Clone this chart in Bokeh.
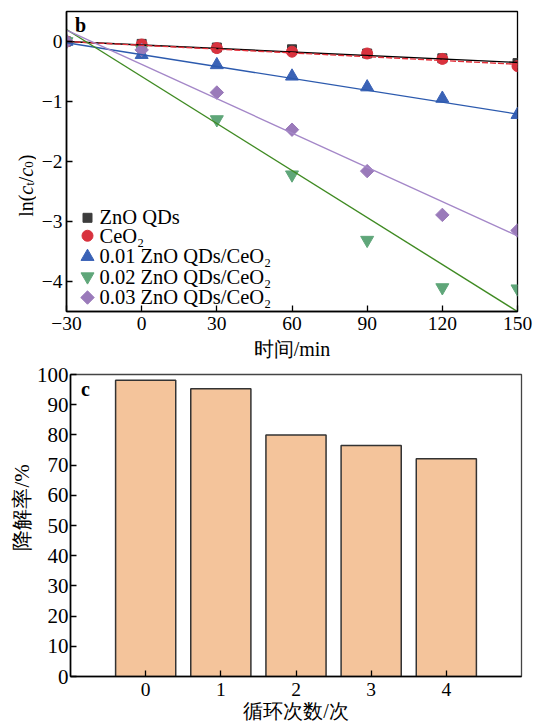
import math
from bokeh.plotting import figure
from bokeh.layouts import column, row
from bokeh.models import Range1d, FixedTicker
from bokeh.core.properties import value
from bokeh.embed import file_html
from bokeh.resources import INLINE

# ---------------- data ----------------
time_min = [-30, 0, 30, 60, 90, 120, 150]
zno_qds = [0.0, -0.04, -0.10, -0.13, -0.20, -0.28, -0.36]
ceo2 = [0.0, -0.05, -0.11, -0.17, -0.20, -0.29, -0.41]
zno_ceo2_001 = [0.0, -0.22, -0.39, -0.58, -0.76, -0.95, -1.22]
zno_ceo2_002 = [0.0, -0.12, -1.30, -2.22, -3.31, -4.10, -4.12]
zno_ceo2_003 = [0.0, -0.14, -0.85, -1.47, -2.16, -2.89, -3.15]

fit_x = [-30, 150]
fit_zno_qds = [0.0, -0.35]
fit_ceo2 = [0.0, -0.38]
fit_001 = [-0.02, -1.21]
fit_002 = [0.20, -4.50]
fit_003 = [0.19, -3.24]

series_names = ["ZnO QDs", "CeO\u2082", "0.01 ZnO QDs/CeO\u2082",
                "0.02 ZnO QDs/CeO\u2082", "0.03 ZnO QDs/CeO\u2082"]

x_ticks_top = [-30, 0, 30, 60, 90, 120, 150]
y_ticks_top = [-4, -3, -2, -1, 0]

cycles = [0, 1, 2, 3, 4]
degradation = [98.1, 95.3, 80.0, 76.5, 72.1]
y_ticks_bottom = [0, 10, 20, 30, 40, 50, 60, 70, 80, 90, 100]

SERIF = "Liberation Serif"


def style_axes(p, tick_fs="19.5px"):
    p.grid.visible = False
    p.outline_line_color = "black"
    p.outline_line_width = 1.3
    for ax in p.axis:
        ax.axis_line_color = "black"
        ax.axis_line_width = 1.6
        ax.major_tick_in = 6
        ax.major_tick_out = 0
        ax.minor_tick_in = 0
        ax.minor_tick_out = 0
        ax.major_tick_line_color = "black"
        ax.major_tick_line_width = 1.3
        ax.major_label_text_font = SERIF
        ax.major_label_text_font_size = tick_fs
        ax.major_label_text_color = "black"
        ax.axis_label_text_font = SERIF
        ax.axis_label_text_font_size = "20px"
        ax.axis_label_text_font_style = "normal"
        ax.axis_label_text_color = "black"


def label_panel(w, h, page_top, page_bottom):
    # the side panel's frame is aligned with the neighbouring plot's frame,
    # so its y range is set so that data y == -(page y)
    f = figure(width=w, height=h, x_range=Range1d(0, w),
               y_range=Range1d(-page_bottom, -page_top),
               output_backend="svg", toolbar_location=None,
               x_axis_location=None, y_axis_location=None,
               min_border_left=0, min_border_right=0, min_border_top=0, min_border_bottom=0)
    f.grid.visible = False
    f.outline_line_color = None
    return f


# ---------------- top plot ----------------
W1, H1 = 36, 362
p1 = figure(width=536 - W1, height=H1, x_range=Range1d(-30, 150), y_range=Range1d(-4.5, 0.5),
            output_backend="svg", toolbar_location=None,
            min_border_left=66 - W1, min_border_right=19, min_border_top=11, min_border_bottom=50)
style_axes(p1)
p1.xaxis.ticker = FixedTicker(ticks=x_ticks_top)
p1.yaxis.ticker = FixedTicker(ticks=y_ticks_top)
p1.xaxis.major_label_overrides = {t: str(t).replace("-", "\u2212") for t in x_ticks_top}
p1.yaxis.major_label_overrides = {t: str(t).replace("-", "\u2212") for t in y_ticks_top}
p1.xaxis.axis_label = "时间/min"
p1.xaxis.major_label_standoff = 5
p1.xaxis.axis_label_standoff = 5
p1.yaxis.major_label_standoff = 4

marker_specs = [
    dict(marker="square", size=9, color="#3c3c3c"),
    dict(marker="circle", size=11, color="#d8323e"),
    dict(marker="triangle", size=13, color="#3a62b6"),
    dict(marker="inverted_triangle", size=13, color="#5fa679"),
    dict(marker="square", size=9.5, color="#9a7aba", angle=math.pi / 4),
]
series_vals = [zno_qds, ceo2, zno_ceo2_001, zno_ceo2_002, zno_ceo2_003]
for vals, spec in zip(series_vals, marker_specs):
    p1.scatter(time_min, vals, **spec)

p1.line(fit_x, fit_zno_qds, line_color="black", line_width=1.4)
p1.line(fit_x, fit_ceo2, line_color="#e3303a", line_width=1.4, line_dash="6 2")
p1.line(fit_x, fit_001, line_color="#2c5aae", line_width=1.4)
p1.line(fit_x, fit_002, line_color="#3f8a22", line_width=1.4)
p1.line(fit_x, fit_003, line_color="#a487c8", line_width=1.4)


# pixel -> data helpers for the top frame (frame: x 66..517, y 11..312 of the page)
def tx(px):
    return -30 + (px - 66) * 180.0 / 451.0


def ty(py):
    return 0.5 - (py - 11) * 5.0 / 301.0


# legend drawn inside the frame
leg_marker_y = [218, 236, 257, 277, 298]
leg_text_y = [217, 236, 256, 277, 297]
for name, spec, my, ty_ in zip(series_names, marker_specs, leg_marker_y, leg_text_y):
    p1.scatter([tx(87)], [ty(my)], **spec)
    p1.text([tx(99)], [ty(ty_)], text=[name], text_font=value(SERIF), text_font_size="20.5px",
            text_align="left", text_baseline="middle", text_color="black")

p1.text([tx(80)], [ty(25)], text=["b"], text_font=value(SERIF), text_font_size="20px",
        text_font_style="bold", text_align="center", text_baseline="middle", text_color="black")

# rotated y label ln(c_t/c_0) in a narrow side panel
lab1 = label_panel(W1, H1, 11, 312)
pieces = [("ln(", "normal", 20, 0), ("c", "italic", 20, 0), ("t", "normal", 13, 1),
          ("/", "normal", 20, 0), ("c", "italic", 20, 0), ("0", "normal", 13, 1), (")", "normal", 20, 0)]
widths = {"ln(": 1.111, "c": 0.444, "t": 0.278, "/": 0.278, "0": 0.5, ")": 0.333}
py = 217.0
for txt, style, fs, sub in pieces:
    bx = 25.0 + (3.5 if sub else 0.0)
    lab1.text([bx], [-py], text=[txt], angle=math.pi / 2, text_font=value(SERIF),
              text_font_size=f"{fs}px", text_font_style=style,
              text_align="left", text_baseline="alphabetic", text_color="black")
    py -= widths[txt] * fs

# ---------------- bottom plot ----------------
W2, H2 = 33, 362
p2 = figure(width=536 - W2, height=H2, x_range=Range1d(-1, 5), y_range=Range1d(0, 100),
            output_backend="svg", toolbar_location=None,
            min_border_left=67 - W2, min_border_right=15, min_border_top=12, min_border_bottom=48)
style_axes(p2)
p2.outline_line_color = "#444444"
p2.xaxis.ticker = FixedTicker(ticks=cycles)
p2.yaxis.ticker = FixedTicker(ticks=y_ticks_bottom)
p2.yaxis.major_label_text_font_size = "21px"
p2.xaxis.axis_label = "循环次数/次"
p2.xaxis.major_label_standoff = 6
p2.xaxis.axis_label_standoff = 1
p2.yaxis.major_label_standoff = 2

p2.vbar(x=cycles, top=degradation, width=0.8, fill_color="#f4c49b",
        line_color="#333333", line_width=1.5)


def bx_(px):
    return -1 + (px - 67) * 6.0 / 454.0


def by_(py):
    return 100 - (py - 374) * 100.0 / 302.0


p2.text([bx_(82)], [by_(388)], text=["c"], text_font=value(SERIF), text_font_size="20px",
        text_font_style="bold", text_align="center", text_baseline="middle", text_color="black")

# rotated y label; page coordinates are relative to the bottom row (page y - 362)
lab2 = label_panel(W2, H2, 374 - 362, 676 - 362)
lab2.text([21.5], [-(550 - 362)], text=["降解率/%"], angle=math.pi / 2, text_font=value(SERIF),
          text_font_size="21px", text_align="left", text_baseline="middle", text_color="black")

layout = column(row(lab1, p1), row(lab2, p2))
open("out.html", "w").write(file_html(layout, INLINE))
